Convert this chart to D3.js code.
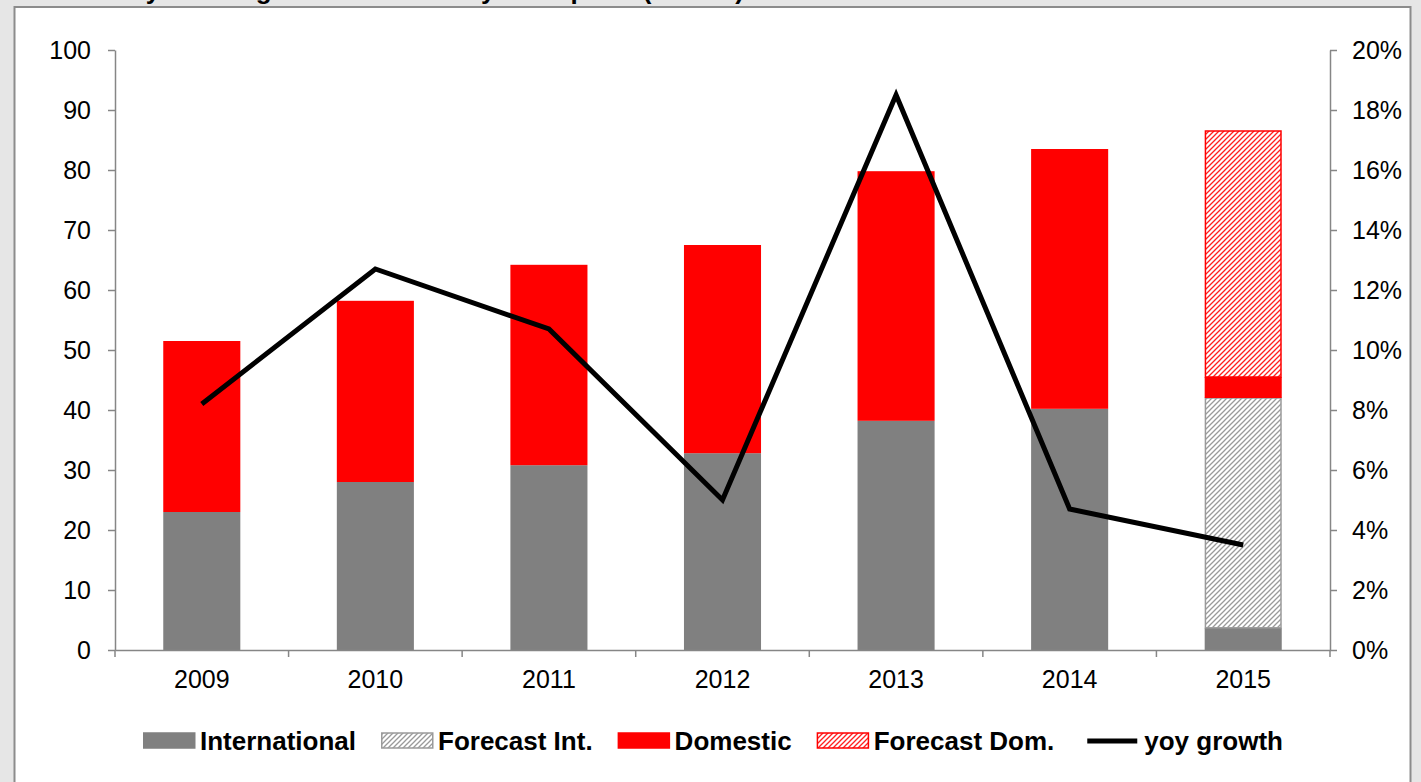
<!DOCTYPE html>
<html>
<head>
<meta charset="utf-8">
<script src="https://cdn.jsdelivr.net/npm/d3@7"></script>
<style>
  html, body { margin: 0; padding: 0; background: #e6e6e6; }
  svg { display: block; font-family: "Liberation Sans", Arial, sans-serif; }
</style>
</head>
<body>
<svg id="chart" width="1421" height="782"></svg>
<script>
// chart values
const years = ["2009", "2010", "2011", "2012", "2013", "2014", "2015"];
const international = [23, 28, 30.8, 32.8, 38.2, 40.2, 3.7];
const forecastInt   = [0, 0, 0, 0, 0, 0, 38.3];
const domestic      = [28.5, 30.2, 33.4, 34.7, 41.6, 43.3, 3.5];
const forecastDom   = [0, 0, 0, 0, 0, 0, 41];
const yoyGrowth     = [8.2, 12.7, 10.7, 5.0, 18.5, 4.7, 3.5];   // percent
const leftTicks  = [0, 10, 20, 30, 40, 50, 60, 70, 80, 90, 100];
const rightTicks = [0, 2, 4, 6, 8, 10, 12, 14, 16, 18, 20];
const legendNames = ["International", "Forecast Int.", "Domestic", "Forecast Dom.", "yoy growth"];
const titleText = "Turkey: traffic growth and total by all airports (million)";

const W = 1421, H = 782;
const svg = d3.select("#chart");
const axisCol = "#868686";

// frame + background
svg.append("rect").attr("width", W).attr("height", H).attr("fill", "#e6e6e6");
svg.append("rect")
    .attr("x", 14.5).attr("y", 7).attr("width", 1396).attr("height", H)
    .attr("fill", "#fff").attr("stroke", "#8c8c8c").attr("stroke-width", 2);

// title, mostly cut off by the top edge
svg.append("text")
    .attr("x", 77).attr("y", -1)
    .attr("font-size", 26).attr("font-weight", "bold")
    .text(titleText);

// hatch patterns
const defs = svg.append("defs");
function hatch(id, col) {
    let p = defs.append("pattern").attr("id", id)
        .attr("patternUnits", "userSpaceOnUse")
        .attr("width", 5).attr("height", 5);
    p.append("rect").attr("width", 5).attr("height", 5).attr("fill", "#fff");
    p.append("path").attr("d", "M-1,1 l2,-2 M0,5 l5,-5 M4,6 l2,-2")
        .attr("stroke", col).attr("stroke-width", 1.3);
}
hatch("hatchGray", "#9a9a9a");
hatch("hatchRed", "#ff2020");

const styles = [
    { fill: "#808080", stroke: "none" },
    { fill: "url(#hatchGray)", stroke: "#9a9a9a" },
    { fill: "#ff0000", stroke: "none" },
    { fill: "url(#hatchRed)", stroke: "#ff0000" }
];

// scales
const x = d3.scaleBand().domain(years).range([115, 1330])
    .paddingInner(0.556).paddingOuter(0.278);
const y = d3.scaleLinear().domain([0, 100]).range([650, 50]);
const y2 = d3.scaleLinear().domain([0, 20]).range([650, 50]);

// stacked bars
const table = years.map((yr, i) => ({
    year: yr, intl: international[i], fcInt: forecastInt[i],
    dom: domestic[i], fcDom: forecastDom[i]
}));
const keys = ["intl", "fcInt", "dom", "fcDom"];
const series = d3.stack().keys(keys)(table);

series.forEach((s, k) => {
    svg.append("g").selectAll("rect")
        .data(s.filter(d => d[1] - d[0] > 0))
        .join("rect")
        .attr("x", d => x(d.data.year) + (styles[k].stroke === "none" ? 0 : 0.75))
        .attr("width", d => x.bandwidth() - (styles[k].stroke === "none" ? 0 : 1.5))
        .attr("y", d => y(d[1]))
        .attr("height", d => y(d[0]) - y(d[1]))
        .attr("fill", styles[k].fill)
        .attr("stroke", styles[k].stroke)
        .attr("stroke-width", 1.5);
});

// axes
const gL = svg.append("g").attr("transform", "translate(115,0)")
    .call(d3.axisLeft(y).tickValues(leftTicks).tickSize(7).tickPadding(17).tickSizeOuter(0));
const gR = svg.append("g").attr("transform", "translate(1330,0)")
    .call(d3.axisRight(y2).tickValues(rightTicks).tickSize(7).tickPadding(15).tickSizeOuter(0)
        .tickFormat(d => d + "%"));
const gB = svg.append("g").attr("transform", "translate(0,650)")
    .call(d3.axisBottom(x).tickSize(0).tickPadding(20).tickSizeOuter(0));

// category boundary ticks
const bounds = d3.range(years.length + 1).map(i => x.range()[0] + i * x.step());
gB.selectAll("line.bound").data(bounds).join("line").attr("class", "bound")
    .attr("x1", d => d).attr("x2", d => d).attr("y1", 0).attr("y2", 7);

[gL, gR, gB].forEach(g => {
    g.selectAll("path.domain").attr("stroke", axisCol).attr("stroke-width", 1.5);
    g.selectAll("line").attr("stroke", axisCol).attr("stroke-width", 1.5);
    g.selectAll("text").attr("font-size", 25).attr("fill", "#000")
        .attr("font-family", "Liberation Sans, Arial, sans-serif");
});
gB.selectAll(".tick text").attr("dy", "0.71em");

// growth line
const line = d3.line()
    .x((d, i) => x(years[i]) + x.bandwidth() / 2)
    .y(d => y2(d));
svg.append("path").datum(yoyGrowth)
    .attr("d", line).attr("fill", "none")
    .attr("stroke", "#000").attr("stroke-width", 5)
    .attr("stroke-linejoin", "miter");

// legend
const lg = svg.append("g").attr("transform", "translate(0,741)");
let cx = 143;
legendNames.forEach((name, i) => {
    if (i < 4) {
        lg.append("rect").attr("x", cx + 0.75).attr("y", -8).attr("width", 51).attr("height", 15)
            .attr("fill", styles[i].fill)
            .attr("stroke", styles[i].stroke === "none" ? styles[i].fill : styles[i].stroke)
            .attr("stroke-width", 1.5);
    } else {
        lg.append("line").attr("x1", cx).attr("x2", cx + 50).attr("y1", 0).attr("y2", 0)
            .attr("stroke", "#000").attr("stroke-width", 5);
    }
    let t = lg.append("text").attr("x", cx + 57).attr("y", 0).attr("dy", "0.36em")
        .attr("font-size", 26).attr("font-weight", "bold").text(name);
    cx = cx + 57 + t.node().getComputedTextLength() + (i === 3 ? 33 : 25);
});
</script>
</body>
</html>
